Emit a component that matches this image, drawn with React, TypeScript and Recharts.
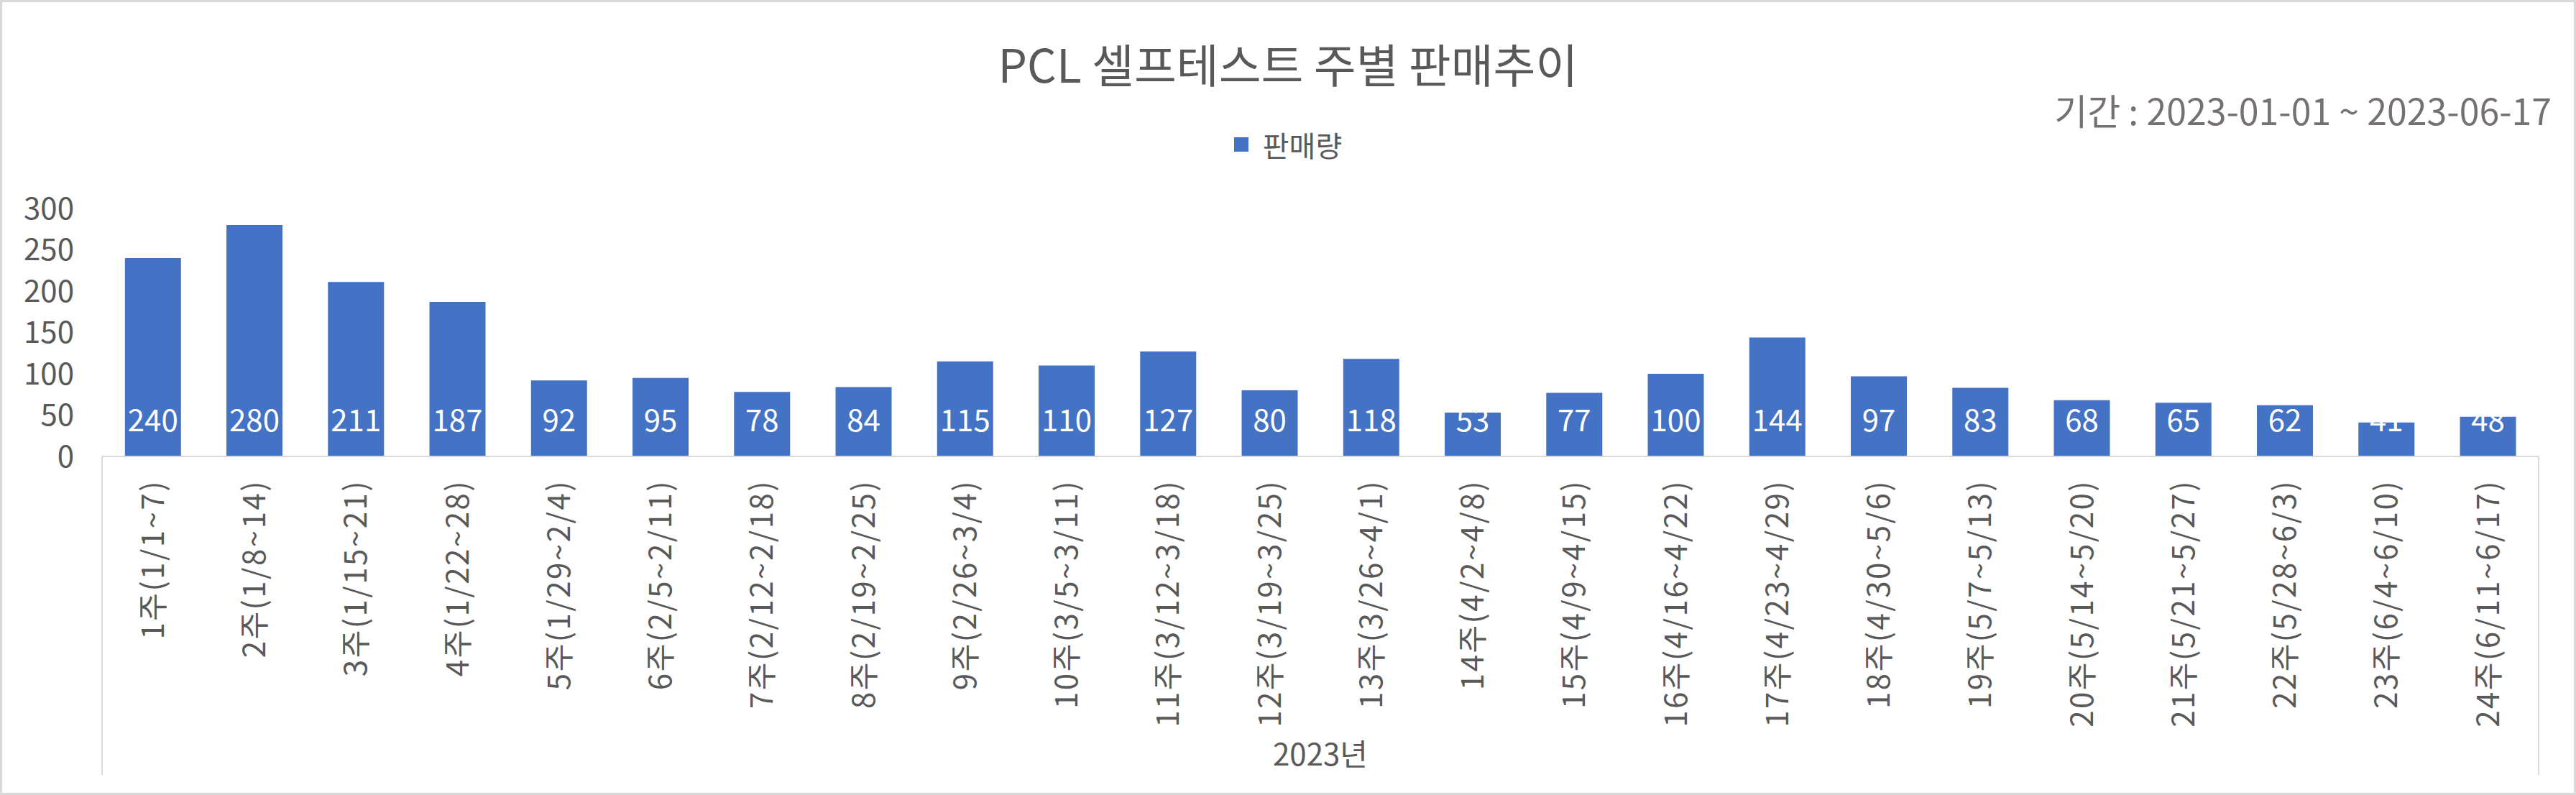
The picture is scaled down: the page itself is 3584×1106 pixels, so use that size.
import React from 'react';
import { BarChart, Bar, XAxis, YAxis, LabelList, Legend } from 'recharts';

const weeks = [
  '1주(1/1~7)', '2주(1/8~14)', '3주(1/15~21)', '4주(1/22~28)', '5주(1/29~2/4)', '6주(2/5~2/11)',
  '7주(2/12~2/18)', '8주(2/19~2/25)', '9주(2/26~3/4)', '10주(3/5~3/11)', '11주(3/12~3/18)', '12주(3/19~3/25)',
  '13주(3/26~4/1)', '14주(4/2~4/8)', '15주(4/9~4/15)', '16주(4/16~4/22)', '17주(4/23~4/29)', '18주(4/30~5/6)',
  '19주(5/7~5/13)', '20주(5/14~5/20)', '21주(5/21~5/27)', '22주(5/28~6/3)', '23주(6/4~6/10)', '24주(6/11~6/17)',
];
const sales = [240, 280, 211, 187, 92, 95, 78, 84, 115, 110, 127, 80, 118, 53, 77, 100, 144, 97, 83, 68, 65, 62, 41, 48];
const yTicks = [0, 50, 100, 150, 200, 250, 300];
const titleText = 'PCL 셀프테스트 주별 판매추이';
const rangeText = '기간 : 2023-01-01 ~ 2023-06-17';
const yearText = '2023년';
const seriesName = '판매량';

const data = weeks.map((w, i) => ({ week: w, value: sales[i] }));

const W = 3584;
const H = 1106;
const MARGIN = { top: 290, right: 52, bottom: 0, left: 0 };
const Y_W = 142;
const FONT = '"Noto Sans CJK KR", "Noto Sans", sans-serif';
const GRAY = '#595959';
const LINE = '#d9d9d9';
const BLUE = '#4472C4';
const X_H = H - 635 - MARGIN.bottom;
const BOX_BOTTOM = 1078 - 635;

const halfBand = (W - MARGIN.left - MARGIN.right - Y_W) / weeks.length / 2;

const XTick = (props: any) => {
  const { x, y, payload, index } = props;
  const hb = payload && typeof payload.offset === 'number' && payload.offset > 0 ? payload.offset : halfBand;
  return (
    <g>
      <text
        transform={`translate(${x},${y + 32}) rotate(-90)`}
        textAnchor="end"
        dy="0.36em"
        fill={GRAY}
        fontSize={42}
        fontFamily={FONT}
        letterSpacing={2.5}
      >
        {payload.value}
      </text>
      {index === 0 && <line x1={x - hb} x2={x - hb} y1={y} y2={y + BOX_BOTTOM} stroke={LINE} strokeWidth={2} />}
      {index === weeks.length - 1 && (
        <line x1={x + hb} x2={x + hb} y1={y} y2={y + BOX_BOTTOM} stroke={LINE} strokeWidth={2} />
      )}
    </g>
  );
};

const LegendContent = (props: any) => {
  const items = props.payload || [];
  return (
    <div style={{ display: 'flex', justifyContent: 'center', alignItems: 'center', width: W, height: 50 }}>
      {items.map((it: any) => (
        <div key={it.value} style={{ display: 'flex', alignItems: 'center' }}>
          <div style={{ width: 20, height: 20, background: BLUE, marginRight: 20 }} />
          <span style={{ fontFamily: FONT, fontSize: 40, color: GRAY, lineHeight: '50px' }}>{it.value}</span>
        </div>
      ))}
    </div>
  );
};

export default function App() {
  return (
    <div
      style={{
        position: 'absolute',
        left: 0,
        top: 0,
        width: W,
        height: H,
        background: '#fff',
        overflow: 'hidden',
      }}
    >
      <div
        style={{
          position: 'absolute',
          left: 0,
          top: 0,
          width: W,
          height: H,
          boxSizing: 'border-box',
          border: `3px solid ${LINE}`,
          pointerEvents: 'none',
        }}
      />
      <div
        style={{
          position: 'absolute',
          left: 0,
          top: 53,
          width: W,
          textAlign: 'center',
          fontFamily: FONT,
          fontSize: 64,
          lineHeight: '68px',
          color: GRAY,
        }}
      >
        {titleText}
      </div>
      <div
        style={{
          position: 'absolute',
          right: 34,
          top: 126,
          fontFamily: FONT,
          fontSize: 50,
          lineHeight: '52px',
          color: '#767171',
          whiteSpace: 'nowrap',
        }}
      >
        {rangeText}
      </div>
      <div style={{ position: 'absolute', left: 0, top: 0 }}>
        <BarChart width={W} height={H} data={data} margin={MARGIN} barCategoryGap="22.5%">
          <Legend
            content={<LegendContent />}
            layout="horizontal"
            verticalAlign="middle"
            align="center"
            wrapperStyle={{ position: 'absolute', top: 176, left: 0, width: W }}
          />
          <XAxis
            dataKey="week"
            interval={0}
            height={X_H}
            tickLine={false}
            tickSize={0}
            tickMargin={0}
            axisLine={{ stroke: LINE, strokeWidth: 2 }}
            tick={<XTick />}
            label={{ value: yearText, position: 'insideBottom', offset: 41, fill: GRAY, fontSize: 42, fontFamily: FONT }}
          />
          <YAxis
            width={Y_W}
            domain={[0, 300]}
            ticks={yTicks}
            interval={0}
            axisLine={false}
            tickLine={false}
            tickSize={0}
            tickMargin={39}
            tick={{ fill: GRAY, fontSize: 42, fontFamily: FONT }}
          />
          <Bar dataKey="value" name={seriesName} fill={BLUE} isAnimationActive={false}>
            <LabelList
              dataKey="value"
              position="insideBottom"
              offset={35}
              fill="#ffffff"
              fontSize={42}
              fontFamily={FONT}
            />
          </Bar>
        </BarChart>
      </div>
    </div>
  );
}
